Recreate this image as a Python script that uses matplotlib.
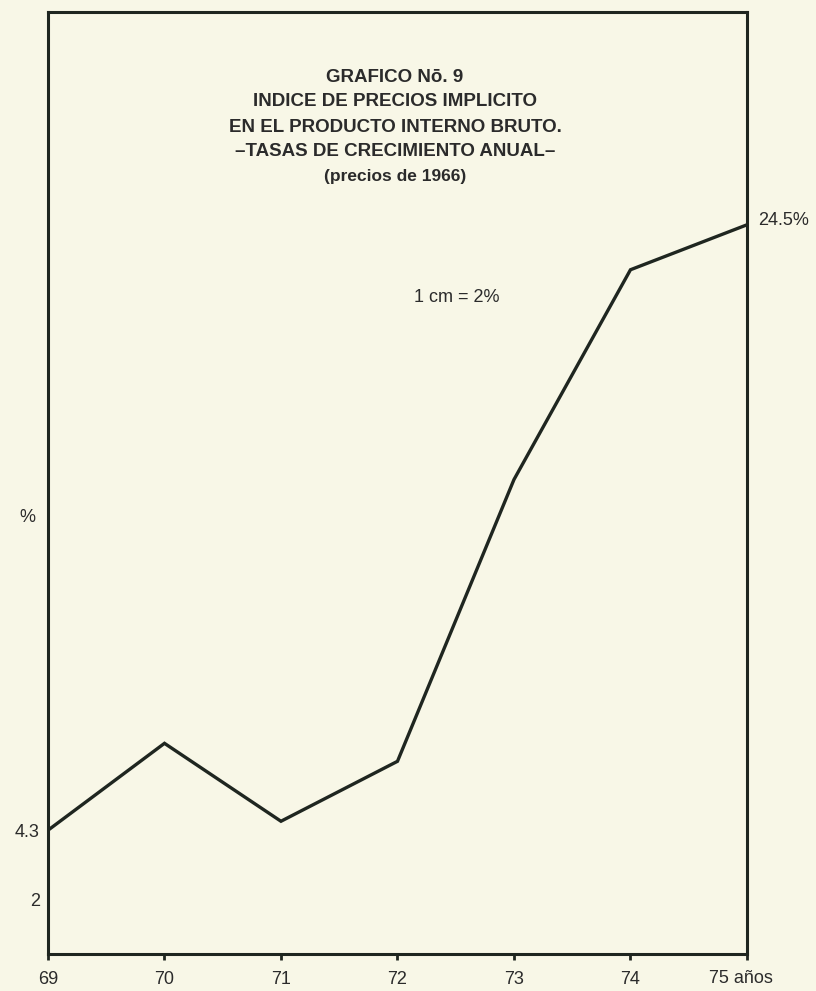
import matplotlib.pyplot as plt

years = [69, 70, 71, 72, 73, 74, 75]
year_labels = ["69", "70", "71", "72", "73", "74", ""]
rates = [4.3, 7.2, 4.6, 6.6, 16.0, 23.0, 24.5]
ytick_values = [2, 4.3]
ytick_labels = ["2", "4.3"]
title_lines = [
    "GRAFICO Nō. 9",
    "INDICE DE PRECIOS IMPLICITO",
    "EN EL PRODUCTO INTERNO BRUTO.",
    "\u2013TASAS DE CRECIMIENTO ANUAL\u2013",
]
subtitle = "(precios de 1966)"

paper = "#f8f7e7"
ink = "#1f2620"
text_col = "#2b2b2b"

plt.rcParams["font.family"] = ["Liberation Sans", "DejaVu Sans"]

fig = plt.figure(figsize=(8.16, 9.91), dpi=100, facecolor=paper)
ax = fig.add_axes([0.0588, 0.0373, 0.8566, 0.9506])
ax.set_facecolor(paper)

ax.plot(years, rates, color=ink, linewidth=2.4, solid_joinstyle="miter")

ax.set_xlim(69, 75)
ax.set_ylim(0.17, 31.6)
for s in ax.spines.values():
    s.set_linewidth(2.2)
    s.set_color(ink)

ax.set_xticks(years)
ax.set_xticklabels(year_labels, fontsize=13, color=text_col)
ax.tick_params(axis="x", direction="out", length=4, width=2, color=ink, pad=8)
ax.set_yticks(ytick_values)
ax.set_yticklabels(ytick_labels, fontsize=13, color=text_col)
ax.tick_params(axis="y", length=0, pad=6)

ax.annotate("75 años", xy=(75, 0), xycoords=("data", "axes fraction"),
            xytext=(-38, -16), textcoords="offset pixels",
            ha="left", va="top", fontsize=13, color=text_col)

ax.annotate("24.5%", xy=(years[-1], rates[-1]), xytext=(11, 4),
            textcoords="offset pixels", ha="left", va="center",
            fontsize=13, color=text_col, annotation_clip=False)

# title block inside the frame
title_y = [78, 102, 127, 151]
for line, ypx in zip(title_lines, title_y):
    fig.text(395 / 816, 1 - ypx / 991, line, ha="center", va="center",
             fontsize=13.5, fontweight="bold", color=text_col)
fig.text(395 / 816, 1 - 177 / 991, subtitle, ha="center", va="center",
         fontsize=12.5, fontweight="bold", color=text_col)

fig.text(457 / 816, 1 - 298 / 991, "1 cm = 2%", ha="center", va="center",
         fontsize=13, color=text_col)
fig.text(27 / 816, 1 - 517 / 991, "%", ha="center", va="center",
         fontsize=13, color=text_col)

fig.savefig("out.png", dpi=100, facecolor=paper)
